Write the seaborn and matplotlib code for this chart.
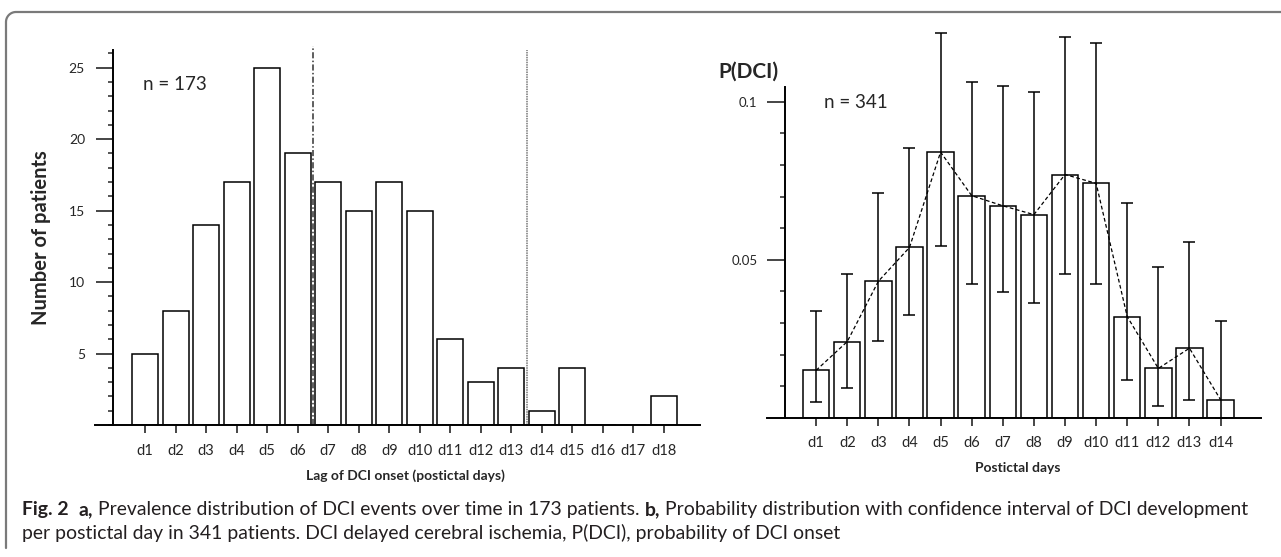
import numpy as np
import matplotlib
matplotlib.use("Agg")
import matplotlib.pyplot as plt
from matplotlib.lines import Line2D
from matplotlib.ticker import MultipleLocator
import seaborn as sns

# ─── DATA ───────────────────────────────────────────────
days_a = ["d%d" % i for i in range(1, 19)]
counts_a = [5, 8, 14, 17, 25, 19, 17, 15, 17, 15, 6, 3, 4, 1, 4, 0, 0, 2]

days_b = ["d%d" % i for i in range(1, 15)]
p_b  = [0.0150, 0.0241, 0.0432, 0.0539, 0.0841, 0.0703, 0.0671,
        0.0643, 0.0770, 0.0742, 0.0320, 0.0156, 0.0220, 0.0057]
lo_b = [0.0049, 0.0093, 0.0242, 0.0325, 0.0545, 0.0423, 0.0397,
        0.0362, 0.0454, 0.0423, 0.0119, 0.0038, 0.0057, 0.0000]
hi_b = [0.0339, 0.0454, 0.0711, 0.0854, 0.1217, 0.1063, 0.1049,
        0.1031, 0.1205, 0.1186, 0.0681, 0.0478, 0.0556, 0.0307]

yticks_a = [5, 10, 15, 20, 25]
yticks_b = [0.05, 0.1]
ytick_labels_b = ["0.05", "0.1"]

caption_1 = [("Fig. 2", "bold"), ("  ", None), ("a,", "bold"), (" ", None),
             ("Prevalence distribution of DCI events over time in 173 patients.", "normal"),
             (" ", None), ("b,", "bold"), (" ", None),
             ("Probability distribution with confidence interval of DCI development", "normal")]
caption_2 = [("per postictal day in 341 patients. DCI delayed cerebral ischemia, "
              "P(DCI), probability of DCI onset", "normal")]

# ─── STYLE ──────────────────────────────────────────────
sns.set_style("white")
plt.rcParams["font.family"] = ["Lato", "DejaVu Sans"]

W, H = 1281, 557
fig = plt.figure(figsize=(W / 100, H / 100), dpi=100)
fig.patch.set_facecolor("white")


def box(x0, y0, x1, y1):
    # pixel box (top-left origin) -> figure fraction rect
    return [x0 / W, 1 - y1 / H, (x1 - x0) / W, (y1 - y0) / H]


def style_axes(ax, spine_x):
    for s in ["top", "right"]:
        ax.spines[s].set_visible(False)
    ax.spines["left"].set_position(("data", spine_x))
    for s in ["left", "bottom"]:
        ax.spines[s].set_linewidth(1.4)
        ax.spines[s].set_color("black")
    ax.set_xlabel("")
    ax.set_ylabel("")


# ─── PANEL A ────────────────────────────────────────────
axL = fig.add_axes(box(95, 50, 700, 425))
sns.barplot(x=days_a, y=counts_a, ax=axL, color="white", edgecolor="black",
            linewidth=1.1, width=0.85, saturation=1)
axL.set_xlim(-1.64, 18.18)
axL.set_ylim(0, 26.24)
style_axes(axL, -1.06)

axL.axvline(5.5, ymin=0, ymax=1.01, color="#333333", lw=1.1,
            ls=(0, (4, 1.5, 1, 1.5)), clip_on=False)
axL.axvline(12.5, ymin=0, ymax=1.0, color="#777777", lw=1.1, ls=(0, (1, 0.6)))

axL.set_yticks(yticks_a)
axL.set_yticklabels([str(v) for v in yticks_a])
axL.yaxis.set_minor_locator(MultipleLocator(1))
axL.tick_params(axis="y", which="major", direction="out", length=12, width=1.2,
                pad=8, labelsize=10, left=True)
axL.tick_params(axis="y", which="minor", direction="out", length=3.5, width=1.1, left=True)
axL.tick_params(axis="x", direction="out", length=6, width=1.2, pad=8,
                labelsize=10.5, bottom=True)

# ─── PANEL B ────────────────────────────────────────────
axR = fig.add_axes(box(767, 86.7, 1261, 417.7))
sns.barplot(x=days_b, y=p_b, ax=axR, color="white", edgecolor="black",
            linewidth=1.1, width=0.85, saturation=1)
pos_b = np.arange(len(days_b))
p_arr, lo_arr, hi_arr = np.array(p_b), np.array(lo_b), np.array(hi_b)
eb = axR.errorbar(pos_b, p_arr, yerr=[p_arr - lo_arr, hi_arr - p_arr], fmt="none",
                  ecolor="black", elinewidth=1.1, capsize=4.5, capthick=1.1, zorder=3)
for child in eb.get_children():
    child.set_clip_on(False)
axR.plot(pos_b, p_arr, color="black", lw=0.9, ls=(0, (3, 2)), zorder=4)

axR.set_xlim(-1.58, 14.3)
axR.set_ylim(0, 0.1048)
style_axes(axR, -1.0)

axR.set_yticks(yticks_b)
axR.set_yticklabels(ytick_labels_b)
axR.yaxis.set_minor_locator(MultipleLocator(0.01))
axR.tick_params(axis="y", which="major", direction="out", length=13, width=1.2,
                pad=7, labelsize=9.5, left=True)
axR.tick_params(axis="y", which="minor", direction="out", length=3.5, width=1.1, left=True)
axR.tick_params(axis="x", direction="out", length=6, width=1.2, pad=7,
                labelsize=10.5, bottom=True)

# ─── TEXTS ──────────────────────────────────────────────
def ftext(x, y, s, **kw):
    return fig.text(x / W, 1 - y / H, s, **kw)

ftext(41, 238, "Number of patients", rotation=90, fontsize=14.5, fontweight="bold",
      ha="center", va="center")
ftext(143, 84, "n = 173", fontsize=13.5, ha="left", va="center")
ftext(405, 476, "Lag of DCI onset (postictal days)", fontsize=10, fontweight="bold",
      ha="center", va="center")

ftext(718, 72, "P(DCI)", fontsize=15, fontweight="bold", ha="left", va="center")
ftext(824, 102, "n = 341", fontsize=13.5, ha="left", va="center")
ftext(1018, 468, "Postictal days", fontsize=10, fontweight="bold",
      ha="center", va="center")

# ─── CAPTION ────────────────────────────────────────────
renderer = fig.canvas.get_renderer()


def text_width(s, size, weight):
    t = fig.text(0, 0, s, fontsize=size, fontweight=weight)
    w = t.get_window_extent(renderer).width
    t.remove()
    return w


def runs_width(runs, size):
    sp = text_width("a a", size, "normal") - text_width("aa", size, "normal")
    total = 0
    for s, weight in runs:
        total += sp * len(s) if weight is None else text_width(s, size, weight)
    return total


def draw_runs(runs, x, y, size):
    sp = text_width("a a", size, "normal") - text_width("aa", size, "normal")
    for s, weight in runs:
        if weight is None:
            x += sp * len(s)
            continue
        t = ftext(x, y, s, fontsize=size, fontweight=weight, ha="left",
                  va="baseline", color="#231f20")
        x += t.get_window_extent(renderer).width


cap_size = 12 * 1223 / runs_width(caption_1, 12)
draw_runs(caption_1, 22, 515, cap_size)
draw_runs(caption_2, 22, 539, cap_size)

# ─── FRAME ──────────────────────────────────────────────
t = np.linspace(np.pi / 2, np.pi, 20)
fx = np.concatenate([[W], 16 + 10 * np.cos(t), [6]])
fy = np.concatenate([[12], 22 - 10 * np.sin(t), [548]])
fig.add_artist(Line2D(fx / W, 1 - fy / H, transform=fig.transFigure,
                      color="#7a7a7a", lw=1.6))

fig.savefig("out.png", dpi=100)
